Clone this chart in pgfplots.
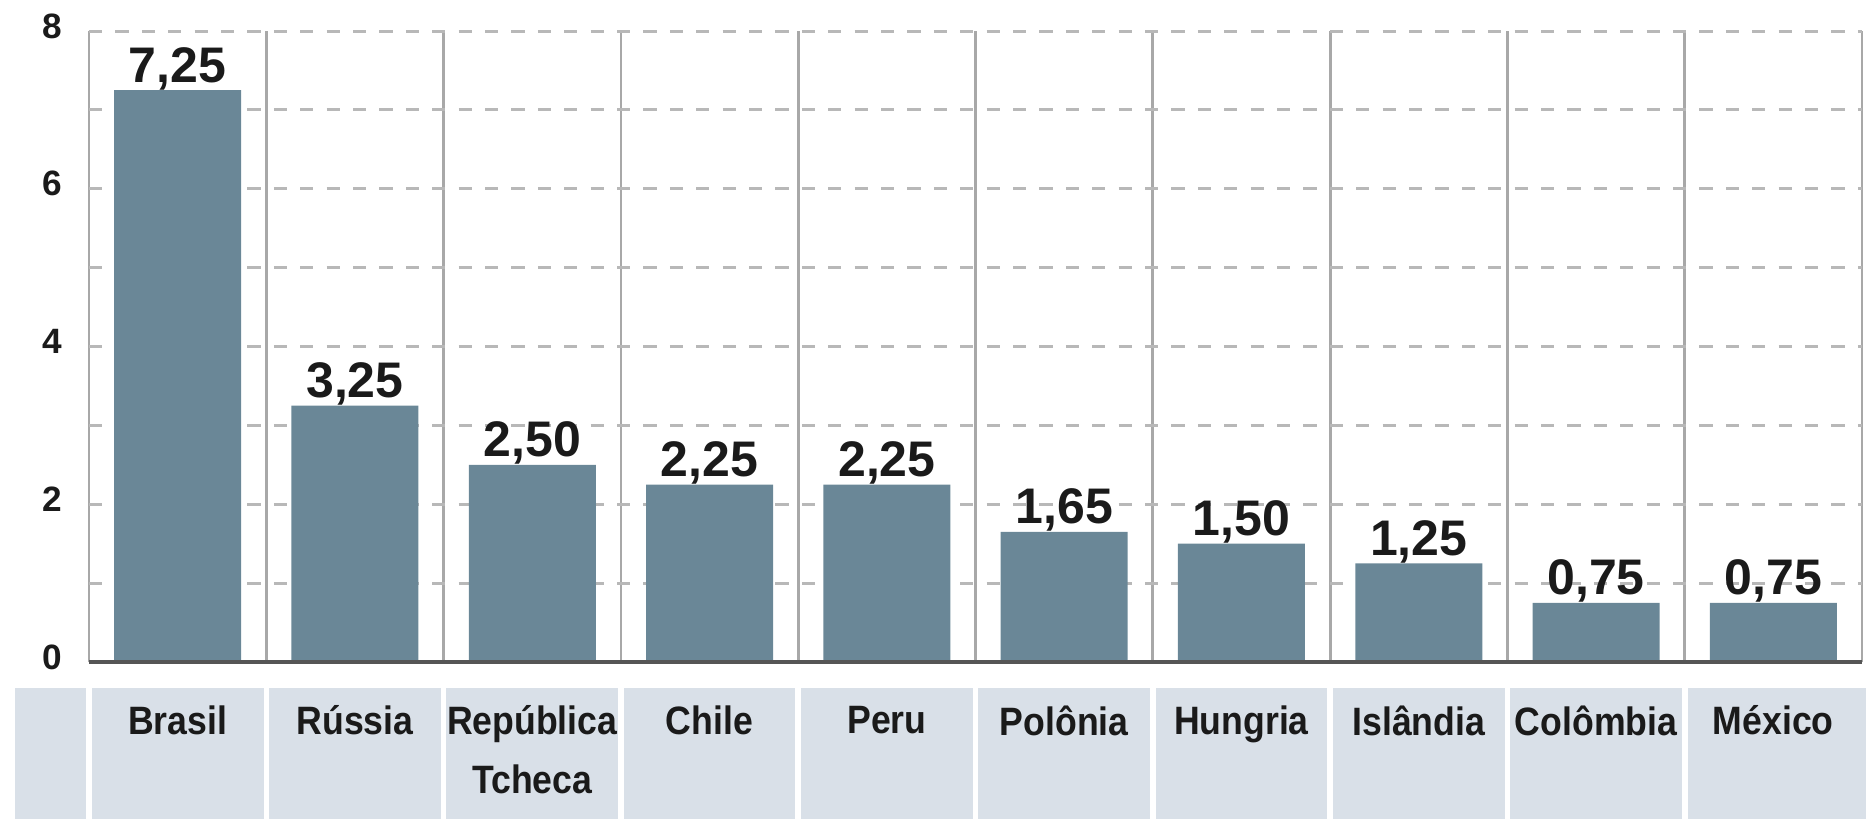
\documentclass[border=0pt]{standalone}
\usepackage{fontspec}
\setmainfont{Liberation Sans}
\newfontfamily\catfont[FakeStretch=0.9]{Liberation Sans}
\usepackage{pgfplots}
\pgfplotsset{compat=1.18}
\usetikzlibrary{backgrounds}

\definecolor{barcol}{HTML}{6A8797}
\definecolor{bandcol}{HTML}{D9E0E8}
\definecolor{sepcol}{HTML}{A8A8A8}
\definecolor{gridcol}{HTML}{B8B8B8}
\definecolor{basecol}{HTML}{555555}
\definecolor{txt}{HTML}{1A1A1A}

\begin{document}
\begin{tikzpicture}
  \begin{axis}[
      name=ax, at={(0,0)}, anchor=south west,
      scale only axis,
      width=443.25pt, height=157.75pt,
      xmin=-0.5, xmax=9.5, ymin=0, ymax=8,
      ybar, bar width=31.75pt,
      clip=false,
      axis line style={draw=none},
      major tick length=0pt, minor tick length=0pt,
      xtick={0,...,9},
      xticklabels={Brasil, Rússia, {República\\Tcheca}, Chile, Peru, Polônia, Hungria, Islândia, Colômbia, México},
      xticklabel style={font={\catfont\bfseries\fontsize{9.9}{14.75}\selectfont}, text=txt,
        align=center, anchor=north, inner sep=0pt, yshift=-10.75pt},
      minor xtick={-0.5,0.5,...,9.5},
      xminorgrids,
      minor x grid style={solid, draw=sepcol, line width=0.7pt},
      ytick={0,2,4,6,8},
      minor ytick={1,3,5,7},
      ymajorgrids, yminorgrids,
      major y grid style={draw=gridcol, line width=0.75pt, dash pattern=on 3.3pt off 3.3pt},
      minor y grid style={draw=gridcol, line width=0.75pt, dash pattern=on 3.3pt off 3.3pt},
      /pgf/number format/assume math mode=true,
      yticklabel style={font=\bfseries\fontsize{8.8}{10}\selectfont, text=txt,
        inner sep=0pt, xshift=-6.5pt, yshift=1.25pt},
      point meta=y,
      nodes near coords={\pgfmathprintnumber[fixed,fixed zerofill,precision=2,use comma]{\pgfplotspointmeta}},
      every node near coord/.append style={font=\bfseries\fontsize{12.5}{14}\selectfont,
        text=txt, anchor=base, inner sep=0pt, yshift=2pt},
    ]
    \addplot[fill=barcol, draw=none] coordinates {
      (0,7.25) (1,3.25) (2,2.50) (3,2.25) (4,2.25)
      (5,1.65) (6,1.50) (7,1.25) (8,0.75) (9,0.75)
    };
    \draw[basecol, line width=1pt] (axis cs:-0.5,0) -- (axis cs:9.5,0);
  \end{axis}
  \begin{scope}[on background layer]
    \fill[bandcol] (-18.5pt,-6.5pt) rectangle (-0.7pt,-39.25pt);
    \foreach \k in {0,...,8}
      \fill[bandcol] ({\k*44.325pt+0.7pt},-6.5pt) rectangle ({(\k+1)*44.325pt-0.7pt},-39.25pt);
    \fill[bandcol] ({9*44.325pt+0.7pt},-6.5pt) rectangle (444.25pt,-39.25pt);
  \end{scope}
  \pgfresetboundingbox
  \path[use as bounding box] (-22.25pt,-39.25pt) rectangle (444.25pt,165.5pt);
\end{tikzpicture}
\end{document}
